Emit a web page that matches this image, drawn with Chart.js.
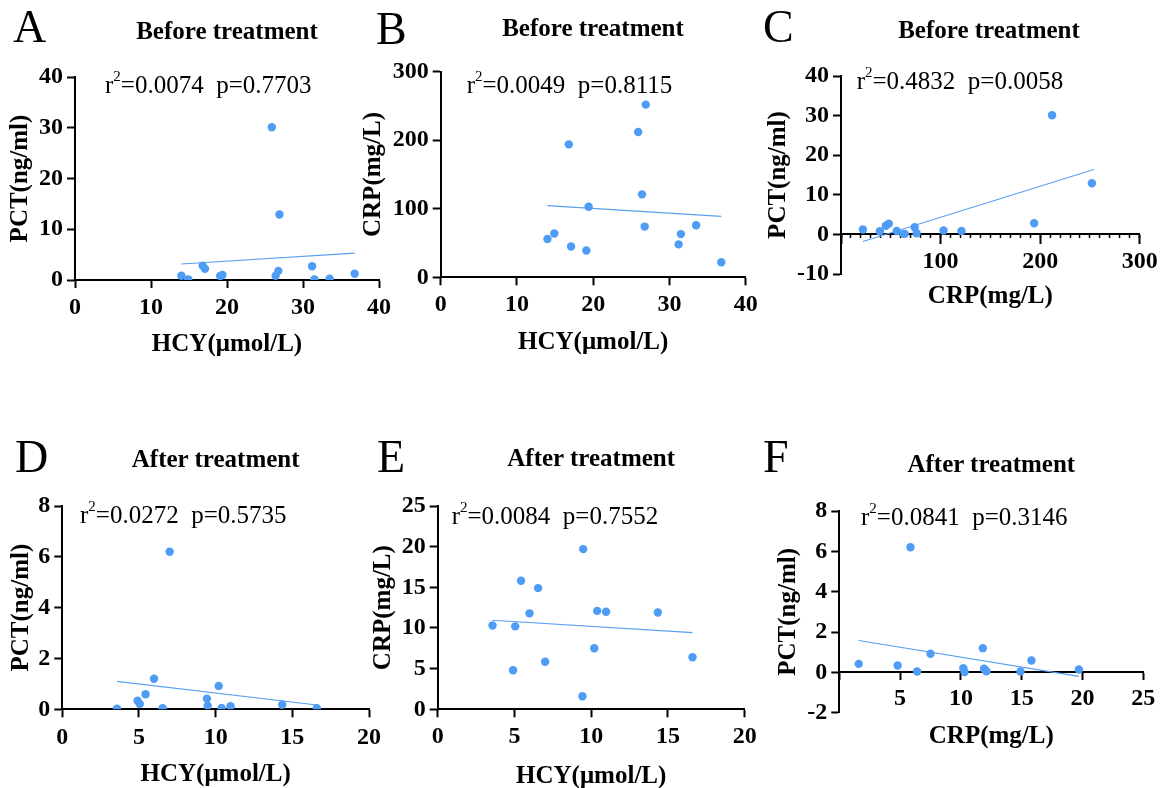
<!DOCTYPE html>
<html>
<head>
<meta charset="utf-8">
<script src="https://cdn.jsdelivr.net/npm/chart.js@4.4.1/dist/chart.umd.min.js"></script>
<style>
html,body{margin:0;padding:0;background:#fff;}
body{width:1164px;height:788px;overflow:hidden;position:relative;font-family:"Liberation Serif","Times New Roman",serif;color:#000;}
canvas{position:absolute;}
.t{position:absolute;line-height:1;white-space:pre;}
.t sup{font-size:15px;position:relative;top:-12px;vertical-align:baseline;}
</style>
</head>
<body>
<script>
// ---------- DATA ----------
// Before treatment (14 patients)
const hcyBefore = [14.0, 14.9, 16.8, 17.1, 19.1, 19.4, 25.9, 26.9, 26.4, 26.75, 31.2, 31.5, 33.5, 36.8];
const pctBefore = [0.85, 0.13, 2.8, 2.2, 0.8, 1.0, 30.1, 12.9, 0.85, 1.8, 2.7, 0.13, 0.27, 1.25];
const crpBefore = [56, 64, 194, 45, 39, 103, 212, 252, 121, 74, 48, 63, 76, 22];
// After treatment (14 patients)
const hcyAfter = [3.57, 4.91, 5.05, 5.43, 5.98, 6.54, 7.0, 9.43, 9.48, 10.2, 10.39, 10.97, 14.34, 16.6];
const pctAfter = [0.02, 0.34, 0.21, 0.59, 1.2, 0.04, 6.2, 0.42, 0.14, 0.92, 0.05, 0.12, 0.18, 0.04];
const crpAfter = [10.3, 4.8, 10.2, 15.8, 11.8, 14.9, 5.85, 1.6, 19.7, 7.5, 12.1, 12.0, 11.9, 6.4];

// Regression line end points (as drawn in the reference)
const fitAx = [14.0, 36.8],  fitAy = [3.15, 5.3];
const fitBx = [14.0, 36.8],  fitBy = [104.5, 89];
const fitCx = [22, 254],     fitCy = [-1.8, 16.4];
const fitDx = [3.57, 16.6],  fitDy = [1.1, 0.17];
const fitEx = [3.56, 16.6],  fitEy = [10.95, 9.42];
const fitFx = [1.6, 19.7],   fitFy = [1.58, -0.2];

// Text
const panelLetters = ['A', 'B', 'C', 'D', 'E', 'F'];
const panelTitles = ['Before treatment', 'Before treatment', 'Before treatment', 'After treatment', 'After treatment', 'After treatment'];
const r2Values = ['0.0074', '0.0049', '0.4832', '0.0272', '0.0084', '0.0841'];
const pValues  = ['0.7703', '0.8115', '0.0058', '0.5735', '0.7552', '0.3146'];
const xTitles = ['HCY(\u03bcmol/L)', 'HCY(\u03bcmol/L)', 'CRP(mg/L)', 'HCY(\u03bcmol/L)', 'HCY(\u03bcmol/L)', 'CRP(mg/L)'];
const yTitles = ['PCT(ng/ml)', 'CRP(mg/L)', 'PCT(ng/ml)', 'PCT(ng/ml)', 'CRP(mg/L)', 'PCT(ng/ml)'];

// Axis ranges / ticks
const xRanges = [[0, 40, 10], [0, 40, 10], [0, 300, 100], [0, 20, 5], [0, 20, 5], [0, 25, 5]];
const yRanges = [[0, 40, 10], [0, 300, 100], [-10, 40, 10], [0, 8, 2], [0, 25, 5], [-2, 8, 2]];

// ---------- LAYOUT / STYLE ----------
const FONT = '"Liberation Serif","Times New Roman",serif';
const DOT = '#4f9cf5';
const LINE = '#5aa0f0';

const panels = [
  {xs: hcyBefore, ys: pctBefore, fx: fitAx, fy: fitAy, left: 0,   top: 40,  w: 400, h: 330, pad: {left: 4,  right: 21,   top: 37,   bottom: 4},    yW: 71,   yTP: 2,   xH: 86,   xPB: 6,   xTP: 5,   xTL: 8, cross: false},
  {xs: hcyBefore, ys: crpBefore, fx: fitBx, fy: fitBy, left: 358, top: 40,  w: 410, h: 330, pad: {left: 0,  right: 22.3, top: 31.7, bottom: 4},    yW: 82.7, yTP: 1,   xH: 88.7, xPB: 8.5, xTP: 5.5, xTL: 8, cross: false},
  {xs: crpBefore, ys: pctBefore, fx: fitCx, fy: fitCy, left: 750, top: 40,  w: 414, h: 330, pad: {left: 10, right: 24.3, top: 36,   bottom: 96},   yW: 81,   yTP: 3.9, xH: 80,   xPB: 3,   xTP: 4,   xTL: 9, cross: true, minor: 10},
  {xs: hcyAfter,  ys: pctAfter,  fx: fitDx, fy: fitDy, left: 0,   top: 470, w: 400, h: 330, pad: {left: 4,  right: 31,   top: 36,   bottom: 4},    yW: 58.3, yTP: 2.1, xH: 86.7, xPB: 6,   xTP: 6,   xTL: 8, cross: false},
  {xs: hcyAfter,  ys: crpAfter,  fx: fitEx, fy: fitEy, left: 360, top: 470, w: 410, h: 330, pad: {left: 4,  right: 25.3, top: 36,   bottom: 4},    yW: 73.7, yTP: 4.9, xH: 86.7, xPB: 4.5, xTP: 5,   xTL: 8, cross: false},
  {xs: crpAfter,  ys: pctAfter,  fx: fitFx, fy: fitFy, left: 750, top: 470, w: 414, h: 330, pad: {left: 20, right: 20.7, top: 41,   bottom: 87.3}, yW: 69.3, yTP: 3.9, xH: 82,   xPB: 3,   xTP: 5.5, xTL: 7, cross: true}
];

// Text placement: [x, baseline] for letter, title centre x & baseline, annotation left & baseline
const letterPos = [[13, 43], [376, 45], [763, 43], [15, 473], [377, 473], [763, 473]];
const titlePos  = [[227, 39], [593, 36], [989, 38], [215.7, 466.7], [591.2, 466], [991.3, 471.7]];
const notePos   = [[105, 92.5], [466.7, 93], [856.7, 89], [80, 523], [451.7, 524], [861, 525]];

function addText(html, x, baseline, size, weight, center) {
  const d = document.createElement('div');
  d.className = 't';
  d.innerHTML = html;
  d.style.fontSize = size + 'px';
  d.style.fontWeight = weight;
  d.style.top = (baseline - 0.8375 * size) + 'px';
  d.style.left = x + 'px';
  if (center) d.style.transform = 'translateX(-50%)';
  document.body.appendChild(d);
}

const tickFont = {family: FONT, size: 24, weight: 'bold'};
const titleFont = {family: FONT, size: 25, weight: 'bold'};

panels.forEach((p, i) => {
  const cv = document.createElement('canvas');
  cv.width = p.w; cv.height = p.h;
  cv.style.left = p.left + 'px'; cv.style.top = p.top + 'px';
  cv.style.width = p.w + 'px'; cv.style.height = p.h + 'px';
  document.body.appendChild(cv);

  const pts = p.xs.map((x, k) => ({x: x, y: p.ys[k]}));
  const fit = p.fx.map((x, k) => ({x: x, y: p.fy[k]}));
  const [xmin, xmax, xstep] = xRanges[i];
  const [ymin, ymax, ystep] = yRanges[i];

  const scales = {
    x: {
      type: 'linear', min: xmin, max: xmax,
      position: p.cross ? {y: 0} : 'bottom',
      afterFit: (s) => { s.height = p.xH; },
      ticks: {stepSize: xstep, autoSkip: false, maxRotation: 0, font: tickFont, color: '#000', padding: p.xTP,
              callback: (v) => (p.cross && v === 0) ? '' : v},
      grid: {drawOnChartArea: false, drawTicks: true, tickLength: p.xTL, tickWidth: 2, tickColor: '#000'},
      border: {display: true, color: '#000', width: 2},
      title: {display: true, text: xTitles[i], font: titleFont, color: '#000', padding: {top: 0, bottom: p.xPB}}
    },
    y: {
      type: 'linear', min: ymin, max: ymax, position: 'left',
      afterFit: (s) => { s.width = p.yW; },
      ticks: {stepSize: ystep, autoSkip: false, font: tickFont, color: '#000', padding: 4},
      grid: {drawOnChartArea: false, drawTicks: true, tickLength: 8, tickWidth: 2, tickColor: '#000'},
      border: {display: true, color: '#000', width: 2},
      title: {display: true, text: yTitles[i], font: titleFont, color: '#000', padding: {top: p.yTP, bottom: 0}}
    }
  };
  if (p.minor) {
    scales.xMinor = {
      type: 'linear', axis: 'x', min: xmin, max: xmax, position: {y: 0},
      afterFit: (s) => { s.height = 0; },
      ticks: {display: false, stepSize: p.minor, autoSkip: false},
      grid: {drawOnChartArea: false, drawTicks: true, tickLength: 4, tickWidth: 1.5, tickColor: '#000'},
      border: {display: false}
    };
  }

  new Chart(cv, {
    type: 'scatter',
    data: {
      datasets: [
        {data: pts, pointRadius: 4.2, pointHoverRadius: 4.2, backgroundColor: DOT, borderWidth: 0, showLine: false},
        {type: 'line', data: fit, borderColor: LINE, borderWidth: 1.2, pointRadius: 0, fill: false, showLine: true}
      ]
    },
    options: {
      responsive: false, animation: false, devicePixelRatio: 1,
      layout: {padding: p.pad},
      plugins: {legend: {display: false}, tooltip: {enabled: false}, title: {display: false}},
      events: [],
      scales: scales
    }
  });

  addText(panelLetters[i], letterPos[i][0], letterPos[i][1], 46, 'normal', false);
  addText(panelTitles[i], titlePos[i][0], titlePos[i][1], 25, 'bold', true);
  addText('r<sup>2</sup>=' + r2Values[i] + '  p=' + pValues[i], notePos[i][0], notePos[i][1], 25, 'normal', false);
});
</script>
</body>
</html>
